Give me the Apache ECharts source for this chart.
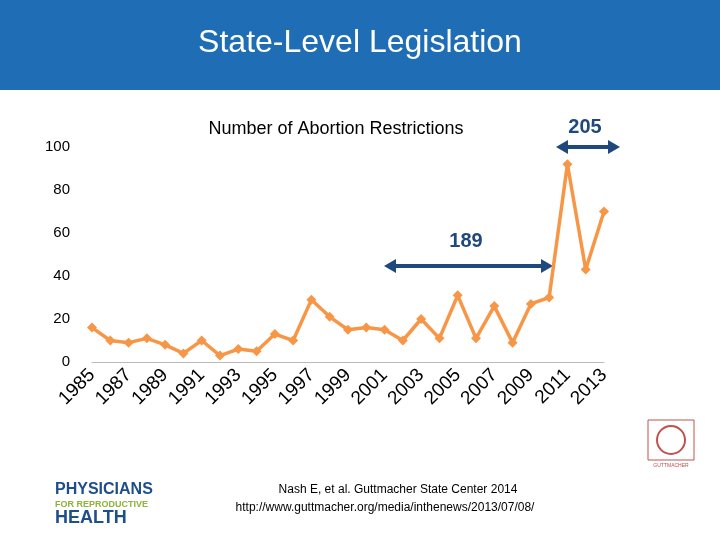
<!DOCTYPE html>
<html><head><meta charset="utf-8">
<script src="https://cdn.jsdelivr.net/npm/echarts@6/dist/echarts.min.js"></script>
<style>body{margin:0}#c{width:720px;height:540px}</style>
</head><body><div id="c"></div>
<script>
var years = ['1985','1986','1987','1988','1989','1990','1991','1992','1993','1994','1995','1996','1997','1998','1999','2000','2001','2002','2003','2004','2005','2006','2007','2008','2009','2010','2011','2012','2013'];
var restrictions = [16,10,9,11,8,4,10,3,6,5,13,10,29,21,15,16,15,10,20,11,31,11,26,9,27,30,92,43,70];
var yTicks = [0,20,40,60,80,100];

var chart = echarts.init(document.getElementById('c'));
var navy = '#1F497D';
chart.setOption({
    backgroundColor: '#fff',
    animation: false,
    grid: {left: 92, right: 116, top: 147, bottom: 178},
    xAxis: {
        type: 'category', data: years, boundaryGap: false,
        axisLine: {lineStyle: {color: '#bbb'}},
        axisTick: {show: false},
        axisLabel: {
            rotate: 45, fontSize: 19, color: '#000', fontFamily: 'Liberation Sans',
            margin: 10,
            formatter: function (v, i) { return i % 2 === 0 ? v : ''; },
            interval: 0
        }
    },
    yAxis: {
        type: 'value', min: 0, max: 100, interval: 20,
        axisLine: {show: false}, splitLine: {show: false}, axisTick: {show: false},
        axisLabel: {fontSize: 15, color: '#000', margin: 22, fontFamily: 'Liberation Sans',
            formatter: function (v) { return yTicks.indexOf(v) >= 0 ? v : ''; }}
    },
    series: [{
        type: 'line', data: restrictions,
        symbol: 'diamond', symbolSize: 10,
        lineStyle: {color: '#F79646', width: 3.5},
        itemStyle: {color: '#F79646'}
    }],
    graphic: [
        {type: 'rect', shape: {x: 0, y: 0, width: 720, height: 90}, style: {fill: '#1E6DB5'}},
        {type: 'text', x: 360, y: 43, style: {text: 'State-Level Legislation', fill: '#fff', fontSize: 32,
            fontFamily: 'Liberation Sans', align: 'center', verticalAlign: 'middle'}},
        {type: 'text', x: 336, y: 129, style: {text: 'Number of Abortion Restrictions', fill: '#000', fontSize: 18,
            fontFamily: 'Liberation Sans', align: 'center', verticalAlign: 'middle'}},
        {type: 'text', x: 585, y: 127, style: {text: '205', fill: navy, fontSize: 20, fontWeight: 'bold',
            fontFamily: 'Liberation Sans', align: 'center', verticalAlign: 'middle'}},
        {type: 'text', x: 466, y: 241, style: {text: '189', fill: navy, fontSize: 20, fontWeight: 'bold',
            fontFamily: 'Liberation Sans', align: 'center', verticalAlign: 'middle'}},
        {type: 'line', shape: {x1: 566, y1: 147, x2: 610, y2: 147}, style: {stroke: navy, lineWidth: 4}},
        {type: 'polygon', shape: {points: [[556,147],[568,140],[568,154]]}, style: {fill: navy}},
        {type: 'polygon', shape: {points: [[620,147],[608,140],[608,154]]}, style: {fill: navy}},
        {type: 'line', shape: {x1: 394, y1: 266, x2: 544, y2: 266}, style: {stroke: navy, lineWidth: 4}},
        {type: 'polygon', shape: {points: [[384,266],[396,259],[396,273]]}, style: {fill: navy}},
        {type: 'polygon', shape: {points: [[553,266],[541,259],[541,273]]}, style: {fill: navy}},
        {type: 'text', x: 398, y: 490, style: {text: 'Nash E, et al. Guttmacher State Center 2014', fill: '#000', fontSize: 12,
            fontFamily: 'Liberation Sans', align: 'center', verticalAlign: 'middle'}},
        {type: 'text', x: 385, y: 508, style: {text: 'http://www.guttmacher.org/media/inthenews/2013/07/08/', fill: '#000', fontSize: 12,
            fontFamily: 'Liberation Sans', align: 'center', verticalAlign: 'middle'}},
        {type: 'text', x: 55, y: 482, style: {text: 'PHYSICIANS', fill: '#1F4E8C', fontSize: 16, fontWeight: 'bold', fontFamily: 'Liberation Sans Narrow, Liberation Sans'}},
        {type: 'text', x: 55, y: 500, style: {text: 'FOR REPRODUCTIVE', fill: '#8DB33A', fontSize: 9, fontWeight: 'bold', fontFamily: 'Liberation Sans Narrow, Liberation Sans'}},
        {type: 'text', x: 55, y: 509, style: {text: 'HEALTH', fill: '#1F4E8C', fontSize: 18, fontWeight: 'bold', fontFamily: 'Liberation Sans Narrow, Liberation Sans'}},
        {type: 'rect', shape: {x: 648, y: 420, width: 46, height: 40}, style: {fill: '#fff', stroke: '#C0504D', lineWidth: 1}},
        {type: 'circle', shape: {cx: 671, cy: 440, r: 14}, style: {fill: 'none', stroke: '#C0504D', lineWidth: 2}},
        {type: 'text', x: 671, y: 463, style: {text: 'GUTTMACHER', fill: '#C0504D', fontSize: 5, align: 'center', fontFamily: 'Liberation Sans'}}
    ]
});
</script></body></html>
